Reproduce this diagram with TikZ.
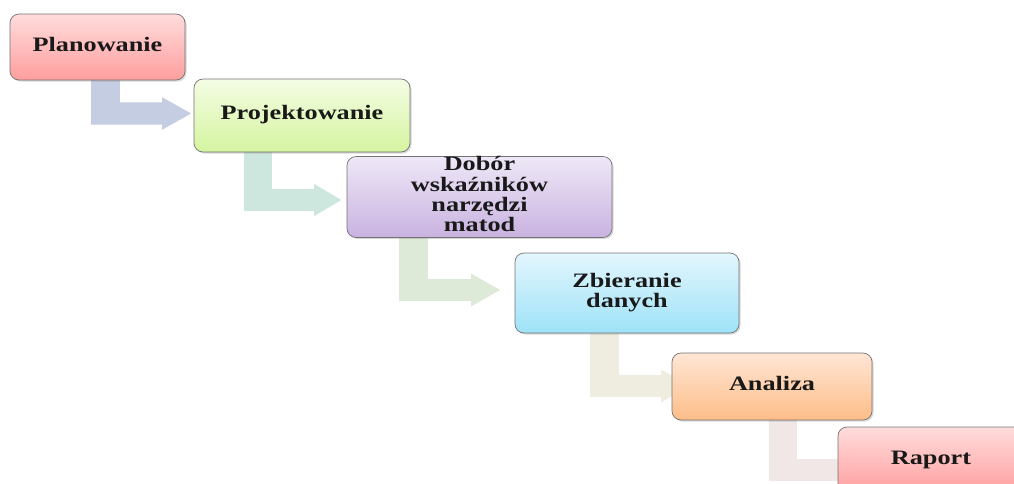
\documentclass[tikz,border=0pt]{standalone}
\usepackage{fontspec}
\setmainfont{Liberation Serif}
\usetikzlibrary{shadows}
\definecolor{plA}{HTML}{FFDCDC}\definecolor{plB}{HTML}{FF9E9E}
\definecolor{prA}{HTML}{F4FCE4}\definecolor{prB}{HTML}{D5F5A0}
\definecolor{doA}{HTML}{EEE8F7}\definecolor{doB}{HTML}{C9B2E0}
\definecolor{zbA}{HTML}{E3F6FD}\definecolor{zbB}{HTML}{9EE2F8}
\definecolor{anA}{HTML}{FFE6D5}\definecolor{anB}{HTML}{FDBD88}
\definecolor{arA}{HTML}{C5CDE2}\definecolor{arB}{HTML}{CDE6DE}
\definecolor{arC}{HTML}{DCEAD7}\definecolor{arD}{HTML}{EEEDDF}
\definecolor{arE}{HTML}{F1E7E7}
\newcommand{\lbl}[1]{\scalebox{1.28}[1]{\begin{tabular}{@{}c@{}}#1\end{tabular}}}
% color, x0, x1, ytop, xbase, xtip, ytip
\newcommand{\bentarrow}[7]{%
  \filldraw[bentarr, fill=#1] (#2,#4) -- (#2,#7+12) -- (#5,#7+12) -- (#5,#7+18)
    -- (#6,#7) -- (#5,#7-18) -- (#5,#7-12) -- (#3,#7-12) -- (#3,#4) -- cycle;}
\begin{document}
\begin{tikzpicture}[x=1pt,y=-1pt,
  stage/.style={draw=black!55, line width=0.7pt, rounded corners=9pt, inner sep=0pt,
    font=\fontsize{20.5}{20}\selectfont\bfseries, text=black!90,
    drop shadow={opacity=0.3, shadow xshift=1.5pt, shadow yshift=-1.5pt}},
  bentarr/.style={draw=white, line width=1.6pt, line join=miter}]
\useasboundingbox (0,0) rectangle (1014,483);
\clip (0,0) rectangle (1014,483);
\fill[white] (0,0) rectangle (1014,483);
% bent arrows
\bentarrow{arA}{90}{121}{70}{161}{193}{113.5}
\bentarrow{arB}{243}{273}{145}{313}{343}{200}
\bentarrow{arC}{398}{429}{230}{470}{502}{290}
\bentarrow{arD}{589}{620}{325}{660}{692}{386}
\bentarrow{arE}{768}{798}{415}{840}{870}{470}
% stages
\node[stage, top color=plA, bottom color=plB, minimum width=175pt, minimum height=66pt] (plan) at (97.5,47) {\lbl{Planowanie}};
\node[stage, top color=prA, bottom color=prB, minimum width=216pt, minimum height=73pt] (proj) at (302,115.5) {\lbl{Projektowanie}};
\node[stage, top color=doA, bottom color=doB, minimum width=265pt, minimum height=80pt] (dobor) at (479.5,197) {\lbl{Dobór\\wskaźników\\narzędzi\\matod}};
\node[stage, top color=zbA, bottom color=zbB, minimum width=224pt, minimum height=80pt] (zbier) at (627,293) {\lbl{Zbieranie\\danych}};
\node[stage, top color=anA, bottom color=anB, minimum width=200pt, minimum height=67pt] (anal) at (772,386.5) {\lbl{Analiza}};
\node[stage, top color=plA, bottom color=plB, minimum width=186pt, minimum height=67pt] (rap) at (931,460.5) {\lbl{Raport}};
\end{tikzpicture}
\end{document}
